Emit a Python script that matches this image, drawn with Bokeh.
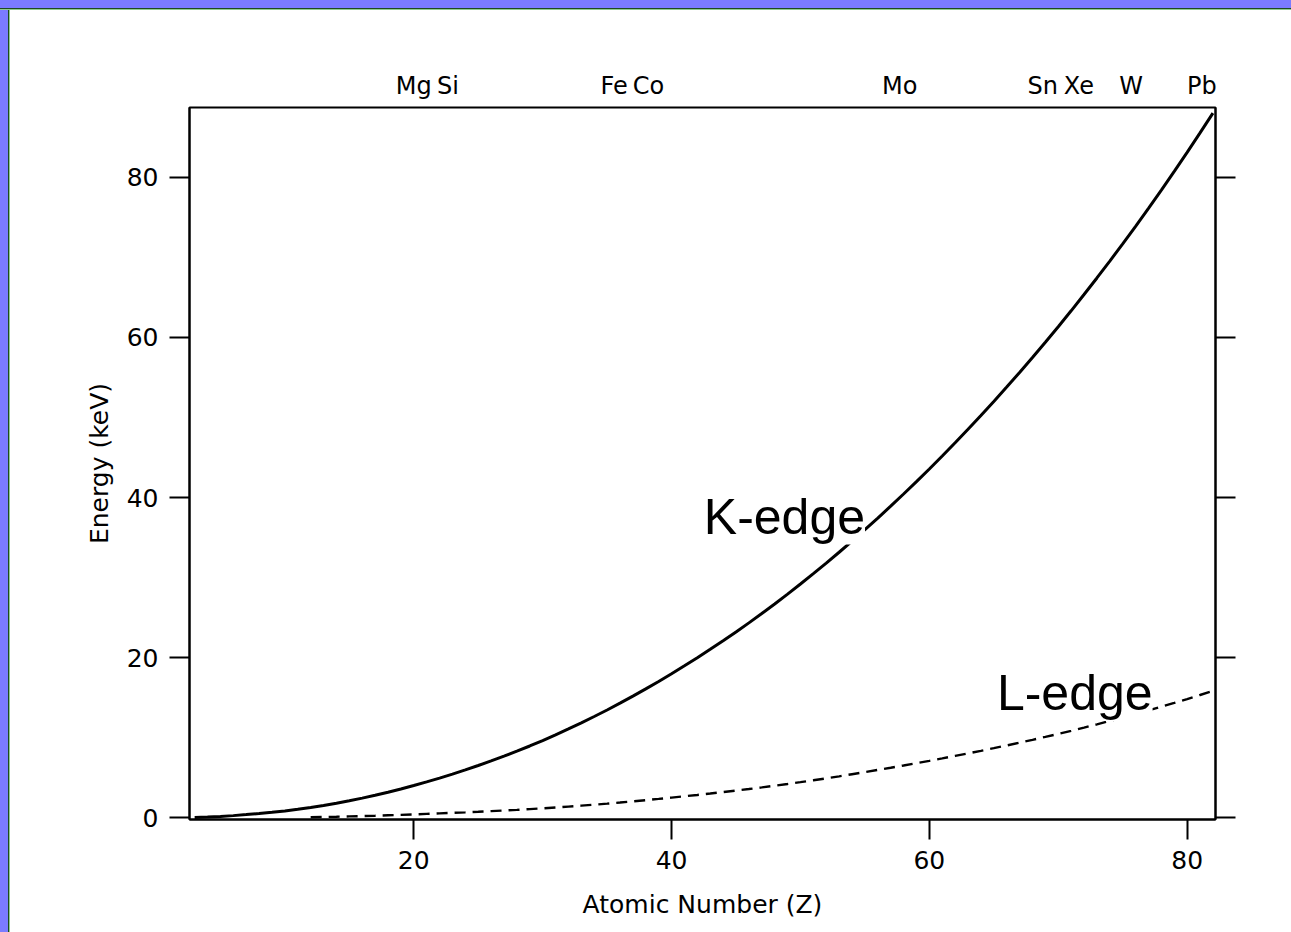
from bokeh.plotting import figure
from bokeh.models import Range1d, LinearAxis, FixedTicker, CustomJSTickFormatter, Label
from bokeh.embed import file_html
from bokeh.resources import INLINE

# K-edge absorption energies (keV), Z = 3 .. 82
z_k = list(range(3, 83))
k_edge = [0.055, 0.111, 0.188, 0.284, 0.410, 0.543, 0.697, 0.870, 1.071, 1.305,
          1.560, 1.839, 2.146, 2.472, 2.822, 3.206, 3.607, 4.038, 4.492, 4.966,
          5.465, 5.989, 6.539, 7.112, 7.709, 8.333, 8.979, 9.659, 10.367, 11.103,
          11.867, 12.658, 13.474, 14.326, 15.200, 16.105, 17.038, 17.998, 18.986, 20.000,
          21.044, 22.117, 23.220, 24.350, 25.514, 26.711, 27.940, 29.200, 30.491, 31.814,
          33.169, 34.561, 35.985, 37.441, 38.925, 40.443, 41.991, 43.569, 45.184, 46.834,
          48.519, 50.239, 51.996, 53.789, 55.618, 57.486, 59.390, 61.332, 63.314, 65.351,
          67.416, 69.525, 71.676, 73.871, 76.111, 78.395, 80.725, 83.102, 85.530, 88.005]

# L-edge absorption energies (keV), Z = 12 .. 82
z_l = list(range(12, 83))
l_edge = [0.089, 0.118, 0.150, 0.189, 0.229, 0.270, 0.326, 0.377, 0.438, 0.500,
          0.564, 0.628, 0.695, 0.769, 0.846, 0.926, 1.008, 1.096, 1.194, 1.298,
          1.414, 1.527, 1.654, 1.782, 1.921, 2.065, 2.216, 2.373, 2.532, 2.698,
          2.866, 3.043, 3.224, 3.412, 3.604, 3.806, 4.018, 4.238, 4.465, 4.698,
          4.939, 5.188, 5.453, 5.714, 5.989, 6.266, 6.549, 6.835, 7.126, 7.428,
          7.737, 8.052, 8.376, 8.708, 9.046, 9.394, 9.751, 10.116, 10.486, 10.870,
          11.271, 11.682, 12.100, 12.527, 12.968, 13.419, 13.880, 14.353, 14.839, 15.347,
          15.861]

# element names shown along the top
top_names = ["Mg", "Si", "Fe", "Co", "Mo", "Sn", "Xe", "W", "Pb"]
top_pos = [20.0, 22.65, 35.55, 38.2, 57.7, 68.8, 71.6, 75.65, 81.15]

x_ticks = [20, 40, 60, 80]
y_ticks = [0, 20, 40, 60, 80]

FONT = "DejaVu Sans"

p = figure(width=1281, height=922, output_backend="svg", toolbar_location=None,
           x_range=Range1d(2.6, 82.2), y_range=Range1d(-0.2, 88.7),
           x_axis_label="Atomic Number (Z)", y_axis_label="Energy (keV)",
           min_border_left=179, min_border_top=97, min_border_right=76, min_border_bottom=113)
p.background_fill_color = "white"
p.border_fill_color = "white"
p.outline_line_color = "black"
p.outline_line_width = 2
p.grid.visible = False

for ax in (p.xaxis[0], p.yaxis[0]):
    ax.axis_line_width = 2
    ax.axis_line_color = "black"
    ax.major_tick_line_width = 2
    ax.major_tick_line_color = "black"
    ax.major_tick_out = 20
    ax.major_tick_in = 0
    ax.minor_tick_line_color = None
    ax.major_label_text_font = FONT
    ax.major_label_text_font_size = "25px"
    ax.major_label_text_color = "black"
    ax.axis_label_text_font = FONT
    ax.axis_label_text_font_size = "25px"
    ax.axis_label_text_font_style = "normal"
    ax.axis_label_text_color = "black"

p.xaxis[0].ticker = FixedTicker(ticks=x_ticks)
p.yaxis[0].ticker = FixedTicker(ticks=y_ticks)
p.xaxis[0].major_label_standoff = 11
p.xaxis[0].axis_label_standoff = 18
p.yaxis[0].major_label_standoff = 11
p.yaxis[0].axis_label_standoff = 10

right = LinearAxis(ticker=FixedTicker(ticks=y_ticks),
                   formatter=CustomJSTickFormatter(code="return '';"))
right.axis_line_width = 2
right.major_tick_line_width = 2
right.major_tick_out = 20
right.major_tick_in = 0
right.minor_tick_line_color = None
right.major_label_text_font_size = "1px"
right.major_label_standoff = 0
p.add_layout(right, "right")

top = LinearAxis(ticker=FixedTicker(ticks=top_pos),
                 formatter=CustomJSTickFormatter(args=dict(names=top_names),
                                                 code="return names[index];"))
top.axis_line_color = None
top.major_tick_line_color = None
top.major_tick_out = 0
top.major_tick_in = 0
top.minor_tick_line_color = None
top.major_label_text_font = FONT
top.major_label_text_font_size = "24px"
top.major_label_text_color = "black"
top.major_label_standoff = 8
p.add_layout(top, "above")

p.line(z_k, k_edge, line_color="black", line_width=3)
p.line(z_l, l_edge, line_color="black", line_width=2.4, line_dash="11 7")

p.add_layout(Label(x=42.5, y=37.63, text="K-edge", text_font="Liberation Sans",
                   text_font_size="50px", text_color="black", text_baseline="alphabetic",
                   background_fill_color="white"))
p.add_layout(Label(x=65.24, y=15.61, text="L-edge", text_font="Liberation Sans",
                   text_font_size="50px", text_color="black", text_baseline="alphabetic",
                   background_fill_color="white"))

html = file_html(p, INLINE)
style = ("<style>body{padding:10px 0 0 10px !important;"
         "background:linear-gradient(to bottom,#7b7bff 0,#7b7bff 8px,#1e4a1e 8px,#1e4a1e 9px,"
         "#90c890 9px,#90c890 10px,rgba(255,255,255,0) 10px) 0 0/100% 10px no-repeat,"
         "linear-gradient(to right,#7b7bff 0,#7b7bff 8px,#1e4a1e 8px,#1e4a1e 9px,"
         "#90c890 9px,#90c890 10px,rgba(255,255,255,0) 10px) 0 0/10px 100% no-repeat,"
         "#ffffff !important;}</style>")
html = html.replace("</head>", style + "</head>", 1)
open("out.html", "w").write(html)
